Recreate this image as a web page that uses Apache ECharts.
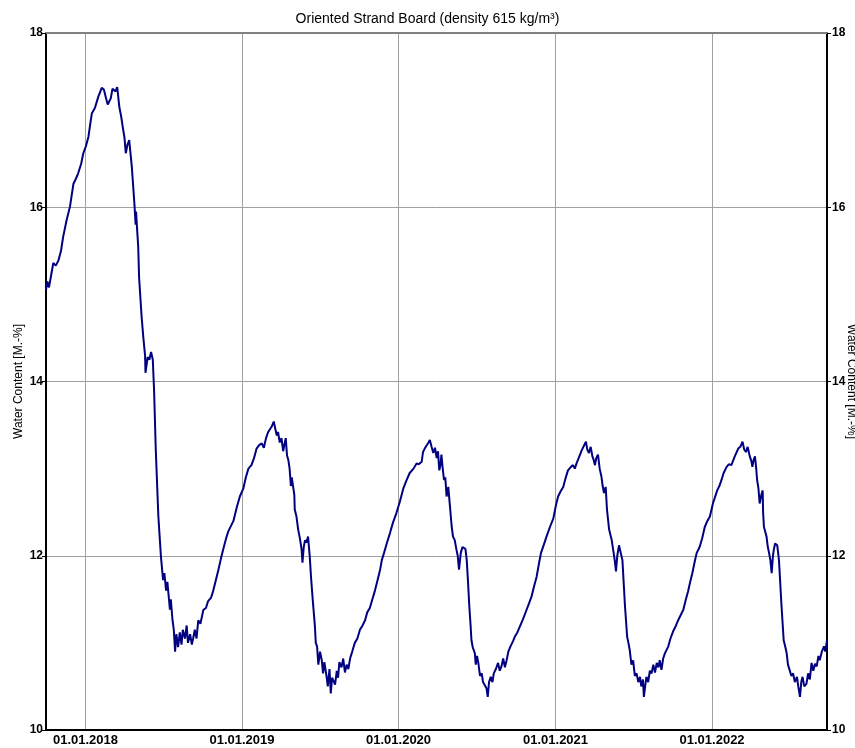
<!DOCTYPE html>
<html>
<head>
<meta charset="utf-8">
<script src="https://cdn.jsdelivr.net/npm/echarts@6/dist/echarts.min.js"></script>
<style>
html,body{margin:0;padding:0;background:#fff;}
#chart{width:855px;height:748px;}
</style>
</head>
<body>
<div id="chart"></div>
<script>
// Title and axis texts
const chartTitle = 'Oriented Strand Board (density 615 kg/m³)';
const yAxisName = 'Water Content [M.-%]';
const startDate = [2017, 9, 1];   // 01.10.2017 (month index 0-based)
const endDay = 1821;              // last day shown, counted from startDate
const yTicks = [10, 12, 14, 16, 18];

// Days counted from 01.10.2017
const dayOffsets = [
0,3,7,12,17,23,29,35,40,48,56,64,70,75,82,87,93,99,103,107,114,122,130,135,140,144,151,155,159,162,166,171,175,179,183,186,190,194,200,206,209,210,213,215,217,223,227,231,232,237,241,245,249,252,256,262,268,273,276,280,283,289,291,295,298,301,304,308,312,316,319,324,328,331,336,340,343,347,351,355,360,367,373,378,385,390,396,402,408,413,420,425,431,437,445,452,460,466,472,479,485,491,497,503,508,513,518,522,526,531,535,538,541,545,549,553,556,559,562,565,568,571,573,576,579,580,584,588,592,596,598,601,604,607,611,615,618,622,627,629,632,635,639,643,646,649,654,657,661,664,667,670,674,678,681,684,689,693,697,701,705,709,714,720,726,732,738,744,749,755,761,767,773,779,783,788,795,802,809,817,825,833,840,848,857,864,869,876,879,883,887,892,895,899,903,907,911,914,917,920,922,925,928,931,934,938,942,946,949,953,957,960,963,967,971,975,978,981,984,987,990,992,995,1000,1002,1005,1008,1012,1016,1019,1023,1027,1030,1033,1037,1041,1044,1049,1054,1058,1062,1066,1070,1074,1078,1083,1089,1093,1099,1105,1112,1119,1126,1132,1138,1144,1149,1154,1161,1167,1175,1183,1189,1194,1200,1206,1212,1217,1224,1229,1233,1237,1242,1249,1254,1259,1262,1266,1270,1274,1277,1280,1283,1287,1291,1295,1298,1301,1305,1308,1313,1319,1323,1326,1329,1332,1336,1339,1344,1350,1355,1358,1361,1365,1369,1373,1377,1381,1385,1388,1392,1394,1397,1400,1404,1408,1412,1416,1420,1424,1428,1431,1435,1439,1443,1451,1456,1462,1469,1474,1480,1486,1492,1497,1502,1507,1512,1517,1524,1530,1536,1542,1548,1555,1565,1570,1575,1580,1587,1592,1598,1606,1614,1619,1624,1628,1632,1636,1641,1645,1647,1650,1653,1656,1658,1661,1664,1668,1671,1672,1674,1680,1683,1686,1689,1692,1695,1697,1700,1705,1709,1715,1720,1724,1727,1730,1734,1738,1742,1746,1751,1754,1758,1761,1764,1768,1773,1777,1781,1785,1789,1793,1797,1801,1804,1809,1814,1817,1821
];
// Water content [M.-%]
const waterContent = [
15.05,15.15,15.08,15.22,15.36,15.33,15.39,15.5,15.66,15.85,16.01,16.27,16.33,16.39,16.5,16.62,16.7,16.81,16.95,17.08,17.14,17.27,17.37,17.35,17.25,17.18,17.25,17.36,17.38,17.33,17.38,17.15,17.05,16.92,16.8,16.62,16.72,16.77,16.47,16.05,15.8,15.95,15.7,15.55,15.2,14.74,14.5,14.3,14.1,14.28,14.25,14.34,14.25,13.9,13.21,12.45,11.99,11.72,11.8,11.6,11.7,11.38,11.5,11.26,11.15,10.9,11.1,10.95,11.12,10.98,11.15,11.05,11.2,11.0,11.1,10.98,11.05,11.15,11.05,11.26,11.22,11.38,11.4,11.48,11.52,11.6,11.72,11.84,11.97,12.07,12.2,12.28,12.34,12.4,12.56,12.68,12.77,12.9,13.0,13.04,13.12,13.23,13.27,13.29,13.24,13.35,13.42,13.4,13.48,13.54,13.45,13.38,13.42,13.3,13.35,13.2,13.28,13.35,13.15,13.1,13.0,12.8,12.9,12.92,12.7,12.53,12.45,12.3,12.2,12.07,11.92,12.1,12.18,12.15,12.22,11.99,11.75,11.49,11.19,11.0,10.96,10.75,10.9,10.8,10.65,10.78,10.62,10.5,10.7,10.42,10.6,10.61,10.52,10.68,10.6,10.78,10.72,10.82,10.66,10.75,10.7,10.82,10.9,11.0,11.05,11.15,11.2,11.26,11.35,11.4,11.5,11.6,11.72,11.84,11.95,12.03,12.15,12.26,12.38,12.49,12.62,12.77,12.86,12.95,13.0,13.06,13.05,13.08,13.19,13.23,13.25,13.3,13.33,13.25,13.18,13.24,13.12,13.2,12.98,13.05,13.16,13.0,12.87,12.9,12.68,12.79,12.56,12.33,12.22,12.18,12.07,12.0,11.84,12.03,12.1,12.12,12.08,11.95,11.7,11.42,11.2,11.03,10.95,10.88,10.75,10.85,10.77,10.62,10.65,10.55,10.57,10.48,10.38,10.55,10.61,10.55,10.65,10.7,10.77,10.68,10.73,10.82,10.72,10.8,10.9,10.96,11.02,11.07,11.12,11.19,11.27,11.36,11.45,11.53,11.65,11.76,11.9,12.03,12.13,12.22,12.33,12.43,12.58,12.68,12.74,12.79,12.9,12.98,13.02,13.04,13.0,13.06,13.12,13.21,13.26,13.31,13.22,13.18,13.25,13.14,13.1,13.04,13.12,13.16,13.0,12.91,12.8,12.72,12.79,12.53,12.3,12.18,12.05,11.95,11.82,12.0,12.12,12.1,11.95,11.42,11.07,11.0,10.92,10.75,10.8,10.62,10.65,10.55,10.61,10.5,10.58,10.38,10.5,10.61,10.55,10.68,10.65,10.75,10.66,10.77,10.72,10.8,10.69,10.82,10.88,10.96,11.05,11.13,11.2,11.26,11.32,11.38,11.5,11.59,11.7,11.8,11.92,12.03,12.1,12.2,12.33,12.4,12.45,12.6,12.75,12.8,12.87,12.95,13.02,13.05,13.04,13.14,13.23,13.25,13.31,13.22,13.19,13.25,13.14,13.08,13.02,13.1,13.14,13.0,12.87,12.78,12.6,12.7,12.75,12.5,12.33,12.22,12.1,12.03,11.95,11.8,12.0,12.07,12.14,12.12,11.95,11.42,11.03,10.95,10.88,10.75,10.77,10.62,10.65,10.55,10.61,10.5,10.38,10.55,10.61,10.5,10.53,10.65,10.58,10.77,10.68,10.76,10.73,10.85,10.8,10.9,10.96,10.9,11.03
];

const DAY = 86400000;
const t0 = new Date(startDate[0], startDate[1], startDate[2]).getTime();
const seriesData = dayOffsets.map((d, i) => [t0 + d * DAY, waterContent[i]]);

function pad(n){ return (n < 10 ? '0' : '') + n; }

const chart = echarts.init(document.getElementById('chart'), null, {renderer: 'canvas'});
chart.setOption({
  backgroundColor: '#ffffff',
  animation: false,
  title: {
    text: chartTitle,
    left: 'center',
    top: 7,
    textStyle: {fontFamily: 'Liberation Sans, Arial, sans-serif', fontSize: 14, fontWeight: 'normal', color: '#000'}
  },
  grid: {left: 46, right: 28, top: 33, bottom: 18, containLabel: false, outerBoundsMode: 'none'},
  xAxis: [{
    type: 'time',
    min: t0,
    max: t0 + endDay * DAY,
    splitNumber: 5,
    axisLine: {show: true, lineStyle: {color: '#000', width: 2}},
    axisTick: {show: false},
    axisLabel: {
      show: true,
      margin: 4,
      showMinLabel: false,
      showMaxLabel: false,
      hideOverlap: false,
      fontFamily: 'Liberation Sans Narrow, Arial Narrow, Liberation Sans, sans-serif',
      fontWeight: 'bold',
      fontSize: 13,
      color: '#000',
      formatter: function (v) {
        const d = new Date(v);
        return pad(d.getDate()) + '.' + pad(d.getMonth() + 1) + '.' + d.getFullYear();
      }
    },
    splitLine: {show: true, lineStyle: {color: '#a0a0a0', width: 1}}
  }, {
    type: 'time',
    position: 'top',
    min: t0,
    max: t0 + endDay * DAY,
    axisLine: {show: true, lineStyle: {color: '#808080', width: 2}},
    axisTick: {show: false},
    axisLabel: {show: false},
    splitLine: {show: false}
  }],
  yAxis: [{
    type: 'value',
    position: 'left',
    min: yTicks[0],
    max: yTicks[yTicks.length - 1],
    interval: 2,
    name: yAxisName,
    nameLocation: 'middle',
    nameGap: 21,
    nameMoveOverlap: false,
    nameTextStyle: {fontFamily: 'Liberation Sans, Arial, sans-serif', fontSize: 12, color: '#000'},
    axisLine: {show: true, lineStyle: {color: '#000', width: 2}},
    axisTick: {show: true, length: 4, lineStyle: {color: '#000'}},
    axisLabel: {margin: 3, fontFamily: 'Liberation Sans Narrow, Arial Narrow, Liberation Sans, sans-serif', fontWeight: 'bold', fontSize: 12, color: '#000'},
    splitLine: {show: true, lineStyle: {color: '#a0a0a0', width: 1}}
  }, {
    type: 'value',
    position: 'right',
    min: yTicks[0],
    max: yTicks[yTicks.length - 1],
    interval: 2,
    name: yAxisName,
    nameLocation: 'middle',
    nameGap: 18,
    nameRotate: -90,
    nameMoveOverlap: false,
    nameTextStyle: {fontFamily: 'Liberation Sans, Arial, sans-serif', fontSize: 12, color: '#000'},
    axisLine: {show: true, lineStyle: {color: '#000', width: 2}},
    axisTick: {show: true, length: 4, lineStyle: {color: '#000'}},
    axisLabel: {margin: 5, fontFamily: 'Liberation Sans Narrow, Arial Narrow, Liberation Sans, sans-serif', fontWeight: 'bold', fontSize: 12, color: '#000'},
    splitLine: {show: false}
  }],
  series: [{
    type: 'line',
    xAxisIndex: 0,
    yAxisIndex: 0,
    data: seriesData,
    showSymbol: false,
    symbol: 'none',
    lineStyle: {color: '#000080', width: 2},
    itemStyle: {color: '#000080'}
  }]
});
</script>
</body>
</html>
